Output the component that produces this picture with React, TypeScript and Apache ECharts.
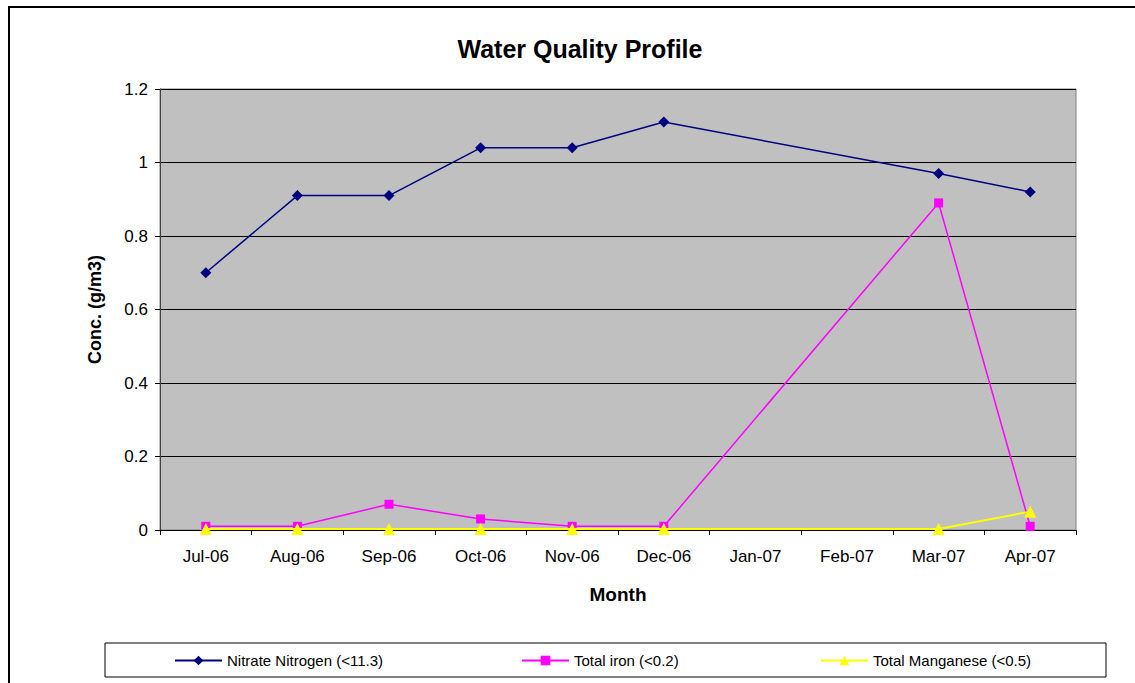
import React, { useEffect, useRef } from "react";
import * as echarts from "echarts";

const months = ["Jul-06", "Aug-06", "Sep-06", "Oct-06", "Nov-06", "Dec-06", "Jan-07", "Feb-07", "Mar-07", "Apr-07"];
const nitrate = [0.70, 0.91, 0.91, 1.04, 1.04, 1.11, null, null, 0.97, 0.92];
const iron = [0.01, 0.01, 0.07, 0.03, 0.01, 0.01, null, null, 0.89, 0.01];
const manganese = [0.003, 0.003, 0.003, 0.003, 0.003, 0.003, null, null, 0.003, 0.05];
const seriesNames = ["Nitrate Nitrogen (<11.3)", "Total iron (<0.2)", "Total Manganese (<0.5)"];

const FONT = "Arial, 'Liberation Sans', sans-serif";

export default function App() {
  const ref = useRef<HTMLDivElement>(null);
  useEffect(() => {
    if (!ref.current) return;
    const chart = echarts.init(ref.current, null, { renderer: "svg" });
    const legendBase = {
      top: 653,
      itemWidth: 47,
      itemHeight: 12,
      textStyle: { fontFamily: FONT, fontSize: 15, color: "#000" },
      padding: 0,
    };
    chart.setOption({
      animation: false,
      backgroundColor: "#fff",
      title: {
        text: "Water Quality Profile",
        left: 575,
        top: 31,
        textAlign: "center",
        textStyle: { fontFamily: FONT, fontSize: 25, fontWeight: "bold", color: "#000" },
      },
      graphic: [
        {
          type: "rect",
          shape: { x: 9, y: 7, width: 1140, height: 700 },
          style: { fill: "none", stroke: "#000", lineWidth: 2 },
        },
        {
          type: "rect",
          shape: { x: 105, y: 643, width: 1001, height: 34 },
          style: { fill: "none", stroke: "#000", lineWidth: 1 },
        },
      ],
      legend: [
        { ...legendBase, left: 174, data: [seriesNames[0]] },
        { ...legendBase, left: 521, data: [seriesNames[1]] },
        { ...legendBase, left: 820, data: [seriesNames[2]] },
      ],
      grid: {
        left: 160,
        top: 89,
        width: 916,
        height: 441,
        show: true,
        backgroundColor: "#C0C0C0",
        borderColor: "#808080",
        borderWidth: 1,
      },
      xAxis: {
        type: "category",
        data: months,
        boundaryGap: true,
        name: "Month",
        nameLocation: "middle",
        nameGap: 55,
        nameTextStyle: { fontFamily: FONT, fontSize: 19, fontWeight: "bold", color: "#000" },
        axisLine: { show: true, lineStyle: { color: "#000", width: 1 } },
        axisTick: { show: true, length: 5, lineStyle: { color: "#000" } },
        axisLabel: { fontFamily: FONT, fontSize: 17, color: "#000", margin: 18, interval: 0 },
        splitLine: { show: false },
      },
      yAxis: {
        type: "value",
        min: 0,
        max: 1.2,
        interval: 0.2,
        name: "Conc. (g/m3)",
        nameLocation: "middle",
        nameGap: 56,
        nameTextStyle: { fontFamily: FONT, fontSize: 18, fontWeight: "bold", color: "#000" },
        axisLine: { show: true, lineStyle: { color: "#404040", width: 1 } },
        axisTick: { show: true, length: 5, lineStyle: { color: "#000" } },
        axisLabel: { fontFamily: FONT, fontSize: 17, color: "#000", margin: 12 },
        splitLine: { show: true, lineStyle: { color: "#000", width: 1 } },
      },
      series: [
        {
          name: seriesNames[0],
          type: "line",
          data: nitrate,
          connectNulls: true,
          symbol: "diamond",
          symbolSize: 11,
          itemStyle: { color: "#000080" },
          lineStyle: { color: "#000080", width: 1.5 },
          z: 4,
        },
        {
          name: seriesNames[1],
          type: "line",
          data: iron,
          connectNulls: true,
          symbol: "rect",
          symbolSize: 9,
          itemStyle: { color: "#FF00FF" },
          lineStyle: { color: "#FF00FF", width: 1.5 },
          z: 3,
        },
        {
          name: seriesNames[2],
          type: "line",
          data: manganese,
          connectNulls: true,
          symbol: "triangle",
          symbolSize: 12,
          itemStyle: { color: "#FFFF00" },
          lineStyle: { color: "#FFFF00", width: 2 },
          z: 5,
        },
      ],
    });
    return () => chart.dispose();
  }, []);
  return (
    <div
      ref={ref}
      style={{ position: "absolute", left: 0, top: 0, width: 1135, height: 683 }}
    />
  );
}
